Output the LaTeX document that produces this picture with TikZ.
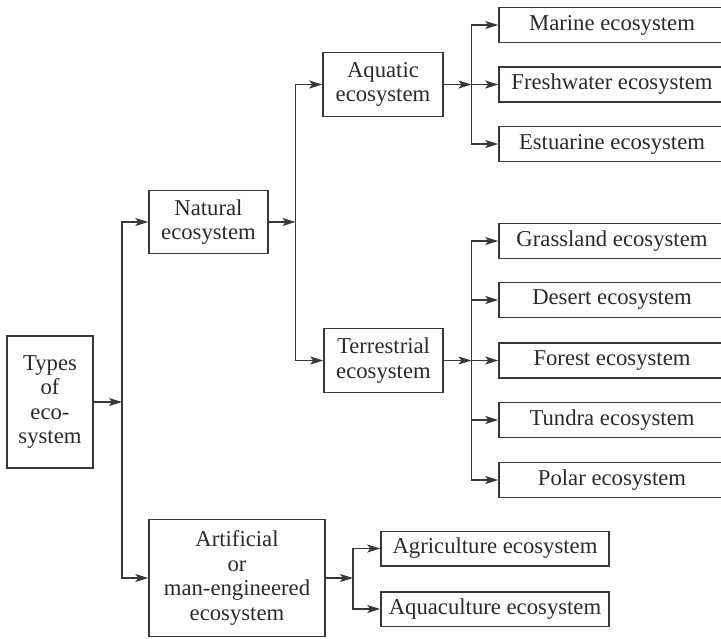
\documentclass[tikz,border=0pt]{standalone}
\usepackage{fontspec}
\setmainfont{Liberation Serif}
\usetikzlibrary{arrows.meta}
\definecolor{ink}{HTML}{2A2A2A}
\definecolor{rule}{HTML}{383838}
\begin{document}
\begin{tikzpicture}[x=1pt,y=-1pt,
  every node/.style={font=\fontsize{22.7}{24.5}\selectfont, text=ink},
  box/.style={draw=rule, line width=1.5pt, inner sep=0pt, align=center},
  leaf/.style={box, minimum width=226pt, minimum height=35pt},
  sub/.style={box, minimum width=228pt, minimum height=34.5pt},
  arr/.style={draw=rule, line width=1.4pt, -{Stealth[length=13pt,width=8pt,inset=3pt]}}]
\useasboundingbox (0,0) rectangle (721,638);

% main categories
\node[box, minimum width=86pt, minimum height=132pt] (types) at (50,402) {Types\\of\\eco-\\system};
\node[box, minimum width=119pt, minimum height=63pt] (natural) at (208.5,222) {Natural\\ecosystem};
\node[box, minimum width=176pt, minimum height=117pt] (artificial) at (237,578) {Artificial\\or\\man-engineered\\ecosystem};
\node[box, minimum width=120pt, minimum height=64pt] (aquatic) at (383,84.5) {Aquatic\\ecosystem};
\node[box, minimum width=119pt, minimum height=64pt] (terrestrial) at (383.5,360.5) {Terrestrial\\ecosystem};

% aquatic ecosystems
\node[leaf] (marine) at (612,25) {Marine ecosystem};
\node[leaf] (fresh) at (612,84.5) {Freshwater ecosystem};
\node[leaf] (estuarine) at (612,144) {Estuarine ecosystem};

% terrestrial ecosystems
\node[leaf] (grass) at (612,241) {Grassland ecosystem};
\node[leaf] (desert) at (612,300) {Desert ecosystem};
\node[leaf] (forest) at (612,360.5) {Forest ecosystem};
\node[leaf] (tundra) at (612,420) {Tundra ecosystem};
\node[leaf] (polar) at (612,480) {Polar ecosystem};

% artificial ecosystems
\node[sub] (agri) at (495,548.5) {Agriculture ecosystem};
\node[sub] (aqua) at (495,609) {Aquaculture ecosystem};

% branch points
\coordinate (j1) at (122,402);
\coordinate (j2) at (295.5,222);
\coordinate (j3) at (471.5,84.5);
\coordinate (j4) at (471.5,360.5);
\coordinate (j5) at (353,578);

% connectors
\draw[arr] (types.east) -- (j1);
\draw[arr] (j1) |- (natural.west);
\draw[arr] (j1) |- (artificial.west);

\draw[arr] (natural.east) -- (j2);
\draw[arr] (j2) |- (aquatic.west);
\draw[arr] (j2) |- (terrestrial.west);

\draw[arr] (aquatic.east) -- (j3);
\draw[arr] (j3) |- (marine.west);
\draw[arr] (j3) -- (fresh.west);
\draw[arr] (j3) |- (estuarine.west);

\draw[arr] (terrestrial.east) -- (j4);
\draw[arr] (j4) |- (grass.west);
\draw[arr] (j4) |- (desert.west);
\draw[arr] (j4) -- (forest.west);
\draw[arr] (j4) |- (tundra.west);
\draw[arr] (j4) |- (polar.west);

\draw[arr] (artificial.east) -- (j5);
\draw[arr] (j5) |- (agri.west);
\draw[arr] (j5) |- (aqua.west);
\end{tikzpicture}
\end{document}
